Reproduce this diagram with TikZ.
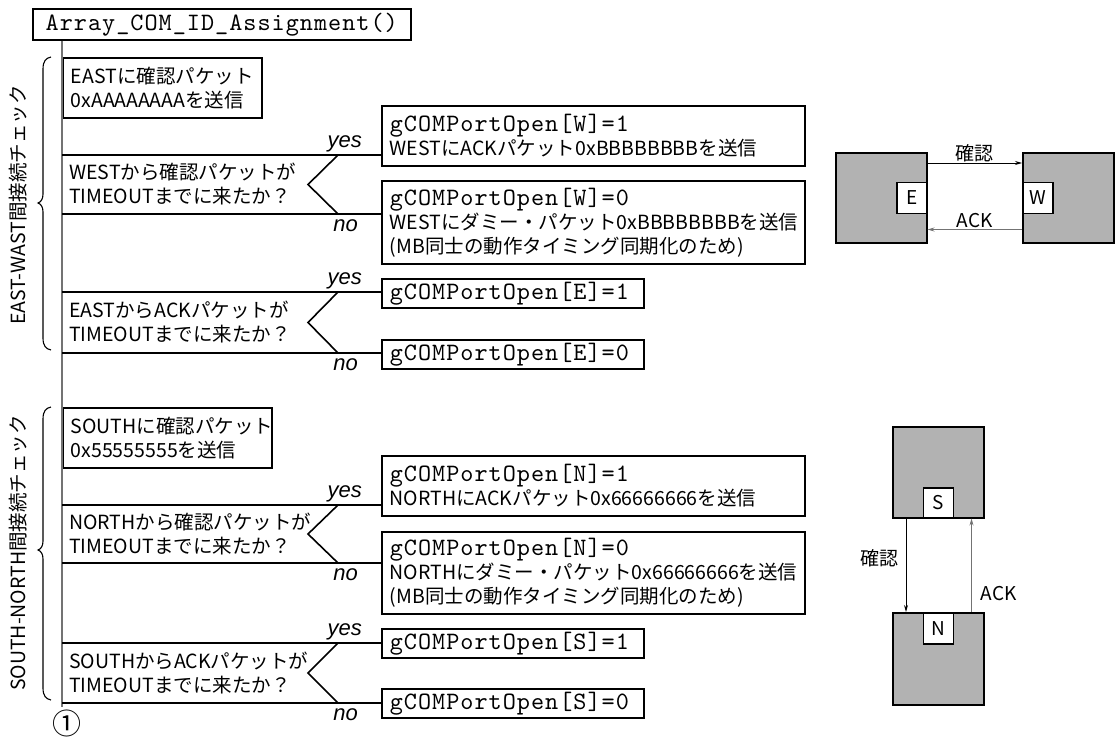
\documentclass[tikz,border=0pt]{standalone}
\usepackage{fontspec}
\setmainfont{Noto Sans CJK JP}
\newfontfamily\latf{Liberation Sans}
\newfontfamily\monof{lmmono10-regular.otf}[LetterSpace=4]
\usetikzlibrary{arrows.meta}
\definecolor{boxgray}{gray}{0.7}
\definecolor{linegray}{gray}{0.45}
\newcommand\code[1]{{\monof\fontsize{25}{24}\selectfont #1}}
% decision: name, top y, bottom y, yes box, no box, text
\newcommand\decide[6]{%
  \coordinate (#1t) at (62,#2);
  \coordinate (#1b) at (62,#3);
  \coordinate (#1p) at (338,#2);
  \coordinate (#1q) at (338,#3);
  \coordinate (#1v) at (308,{(#2+#3)/2});
  \node[dtext] (#1) at (62,{(#2+#3)/2}) {#6};
  \draw[dline] (#1t) -- (#1t -| #4.west);
  \draw[dline] (#1b) -- (#1b -| #5.west);
  \draw[dline] (#1p) -- (#1v) -- (#1q);
  \node[yn,anchor=base east] at (362,#2-8) {yes};
  \node[yn,anchor=base east] at (358,#3+17) {no};
}
% curly brace opening to the right: top y, tip y, bottom y
\newcommand\groupbrace[3]{%
  \draw[brace] (51,#1) .. controls (46,#1+1) and (43,#1+4) .. (43,#1+12)
    -- (43,#2-9) .. controls (43,#2-4) and (41,#2-1) .. (38,#2)
    .. controls (41,#2+1) and (43,#2+4) .. (43,#2+9)
    -- (43,#3-12) .. controls (43,#3-4) and (46,#3-1) .. (51,#3);
}
\begin{document}
\begin{tikzpicture}[x=1pt,y=-1pt,
  font=\fontsize{19.5}{24}\selectfont,
  mainline/.style={draw=linegray,line width=1.6pt},
  box/.style={draw,line width=1.6pt,anchor=north west,inner xsep=8pt,inner ysep=0pt,align=left},
  dtext/.style={anchor=west,inner xsep=7pt,inner ysep=0pt,align=left},
  dline/.style={draw,line width=1.6pt},
  yn/.style={font=\latf\itshape\fontsize{22}{22}\selectfont,inner sep=0pt},
  side/.style={rotate=90,inner sep=0pt},
  brace/.style={draw,line width=1.1pt},
  gbox/.style={draw,fill=boxgray,line width=1.5pt,minimum width=91pt,minimum height=90pt,inner sep=0pt,anchor=north west},
  port/.style={draw,fill=white,line width=1.5pt,minimum width=30pt,minimum height=31pt,inner sep=0pt,font=\fontsize{19}{19}\selectfont},
  arr/.style={-{Stealth[length=7pt,width=4pt]},line width=0.9pt},
  small/.style={font=\fontsize{19}{19}\selectfont,inner sep=1pt}
]
\useasboundingbox (0,0) rectangle (1115,741);

% ---------- flow chart ----------
\node[box,inner xsep=0pt,align=center,text width=378pt,minimum height=31pt,
      font=\monof\fontsize{25}{24}\selectfont] (title) at (32,8) {Array\_COM\_ID\_Assignment()};
\node[font=\fontsize{29}{29}\selectfont,inner sep=0pt] (end) at (67,723) {①};

% EAST-WEST group
\node[box,text width=183pt,minimum height=60pt] (b1) at (62,57) {EASTに確認パケット\\0xAAAAAAAAを送信};
\node[box,text width=407pt,minimum height=60pt] (yW) at (381,105)
  {\code{gCOMPortOpen[W]=1}\\WESTにACKパケット0xBBBBBBBBを送信};
\node[box,text width=407pt,minimum height=83pt] (nW) at (381,180)
  {\code{gCOMPortOpen[W]=0}\\WESTにダミー・パケット0xBBBBBBBBを送信\\(MB同士の動作タイミング同期化のため)};
\node[box,text width=246pt,minimum height=29pt] (yE) at (381,278) {\code{gCOMPortOpen[E]=1}};
\node[box,text width=246pt,minimum height=29pt] (nE) at (381,339) {\code{gCOMPortOpen[E]=0}};

% SOUTH-NORTH group
\node[box,text width=193pt,minimum height=60pt] (b2) at (62,407) {SOUTHに確認パケット\\0x55555555を送信};
\node[box,text width=407pt,minimum height=60pt] (yN) at (381,455)
  {\code{gCOMPortOpen[N]=1}\\NORTHにACKパケット0x66666666を送信};
\node[box,text width=407pt,minimum height=82pt] (nN) at (381,531)
  {\code{gCOMPortOpen[N]=0}\\NORTHにダミー・パケット0x66666666を送信\\(MB同士の動作タイミング同期化のため)};
\node[box,text width=246pt,minimum height=29pt] (yS) at (381,628) {\code{gCOMPortOpen[S]=1}};
\node[box,text width=246pt,minimum height=29pt] (nS) at (381,688) {\code{gCOMPortOpen[S]=0}};

% main flow line
\draw[mainline] (b1.west |- title.south) -- ([yshift=2pt]b1.west |- end.north);

\decide{d1}{155}{214}{yW}{nW}{WESTから確認パケットが\\TIMEOUTまでに来たか？}
\decide{d2}{292}{353}{yE}{nE}{EASTからACKパケットが\\TIMEOUTまでに来たか？}
\decide{d3}{505}{563}{yN}{nN}{NORTHから確認パケットが\\TIMEOUTまでに来たか？}
\decide{d4}{643}{703}{yS}{nS}{SOUTHからACKパケットが\\TIMEOUTまでに来たか？}

\groupbrace{57}{203}{350}
\groupbrace{407}{550}{700}
\node[side] (g1) at (18,205) {EAST-WAST間接続チェック};
\node[side] (g2) at (18,553) {SOUTH-NORTH間接続チェック};

% ---------- EAST / WEST boards ----------
\node[gbox] (ew1) at (835,152) {};
\node[gbox] (ew2) at (1022,152) {};
\node[port,anchor=east] (pE) at (ew1.east) {E};
\node[port,anchor=west] (pW) at (ew2.west) {W};
\draw[arr] ([yshift=-11pt]ew1.north east) -- node[small,midway,above] {確認} ([yshift=-11pt]ew2.north west);
\draw[arr,draw=linegray] ([yshift=14pt]ew2.south west) -- node[small,midway,above] {ACK} ([yshift=14pt]ew1.south east);

% ---------- SOUTH / NORTH boards ----------
\node[gbox,minimum height=91pt] (sn1) at (892,426) {};
\node[gbox,minimum height=92pt] (sn2) at (892,612) {};
\node[port,minimum height=30pt,anchor=south] (pS) at (sn1.south) {S};
\node[port,anchor=north] (pN) at (sn2.north) {N};
\draw[arr] ([xshift=14pt]sn1.south west) -- node[small,pos=0.42,left,inner sep=7pt] {確認} ([xshift=14pt]sn2.north west);
\draw[arr,draw=linegray] ([xshift=-13pt]sn2.north east) -- node[small,pos=0.2,right,inner sep=9pt] {ACK} ([xshift=-13pt]sn1.south east);
\end{tikzpicture}
\end{document}
